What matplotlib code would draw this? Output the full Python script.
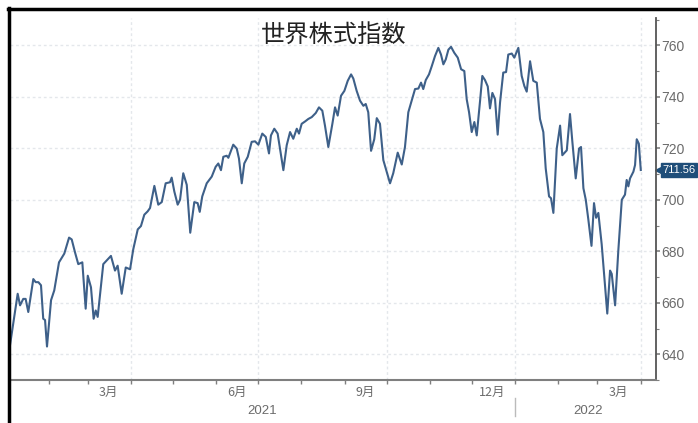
import numpy as np
import pandas as pd
import matplotlib
matplotlib.use('Agg')
import matplotlib.pyplot as plt
import matplotlib.dates as mdates
import matplotlib.transforms as mtransforms
from matplotlib.lines import Line2D
from matplotlib import font_manager

plt.rcParams['font.family'] = ['Noto Sans CJK JP', 'DejaVu Sans']

# narrow font for the numbers, if it is there
installed = set(f.name for f in font_manager.fontManager.ttflist)
num_family = ['Liberation Sans Narrow'] if 'Liberation Sans Narrow' in installed else ['Liberation Sans']

# chart data (days counted from 2021-01-01)
start_date = '2021-01-01'
days = [3.3, 8.8, 10.5, 12.8, 14.5, 16.4, 20.0, 21.7, 23.6, 25.5, 27.1, 28.4, 29.8,
        32.7, 35.0, 38.4, 42.2, 45.6, 47.5, 49.9, 52.2, 55.1, 57.5, 59.0, 61.3, 63.2,
        64.7, 66.1, 70.1, 75.6, 78.5, 80.4, 83.3, 86.2, 89.3, 91.6, 94.8, 97.1, 99.5,
        101.9, 103.6, 106.7, 109.5, 112.0, 114.8, 117.9, 119.1, 121.0, 123.4, 125.1,
        127.4, 129.9, 132.4, 135.3, 137.7, 139.2, 141.0, 144.2, 147.8, 150.6, 152.5,
        154.4, 156.1, 158.5, 159.7, 163.2, 165.7, 167.3, 169.3, 171.1, 173.6, 176.4,
        178.8, 181.2, 184.0, 186.5, 188.8, 190.2, 192.6, 195.0, 196.7, 199.1, 201.5,
        203.9, 206.2, 208.7, 210.3, 212.2, 214.6, 217.0, 219.4, 222.3, 224.6, 227.0,
        228.9, 231.3, 234.2, 236.1, 238.0, 240.4, 242.8, 245.2, 247.6, 249.2, 251.6,
        254.0, 256.4, 258.1, 259.9, 261.9, 264.2, 266.0, 268.3, 270.7, 273.1, 275.5,
        277.8, 281.0, 283.9, 286.2, 288.6, 291.0, 293.4, 295.8, 297.7, 299.3, 301.1,
        303.4, 305.4, 307.7, 310.1, 312.0, 313.7, 315.4, 317.3, 319.2, 321.5, 324.0,
        326.4, 328.7, 330.4, 332.1, 334.0, 335.9, 337.6, 340.0, 341.6, 343.5, 345.5,
        347.1, 348.8, 350.7, 352.6, 354.3, 356.6, 358.6, 360.2, 362.7, 364.5, 367.4,
        369.8, 371.7, 373.4, 375.8, 378.1, 380.6, 382.9, 385.3, 387.0, 389.4, 390.8,
        392.5, 394.9, 397.3, 398.9, 402.1, 404.4, 406.1, 408.5, 410.9, 412.3, 414.0,
        415.7, 417.5, 419.8, 421.6, 423.1, 424.7, 427.1, 428.8, 431.1, 433.1, 434.3,
        436.7, 439.0, 441.5, 443.8, 445.0, 446.2, 447.4, 449.8, 451.0, 452.2, 453.7,
        455.1]
values = [643.5, 663.5, 659.0, 661.5, 661.5, 656.4, 669.2, 668.0, 668.0, 666.8, 653.8,
          653.3, 643.0, 661.0, 664.8, 675.7, 679.1, 685.3, 684.6, 679.5, 675.0, 675.7,
          657.7, 670.5, 666.0, 653.8, 657.0, 654.5, 675.0, 678.2, 672.5, 674.4, 663.5,
          673.7, 673.0, 680.8, 688.5, 689.8, 694.2, 695.5, 696.8, 705.4, 698.1, 699.1,
          706.4, 706.8, 708.6, 703.2, 698.1, 700.0, 710.3, 705.8, 687.2, 699.1, 698.7,
          695.3, 701.3, 706.4, 709.0, 712.8, 714.1, 711.5, 716.7, 717.1, 716.3, 721.4,
          719.9, 716.0, 706.4, 714.1, 716.7, 722.5, 722.7, 721.4, 725.7, 724.4, 718.0,
          725.0, 727.6, 725.7, 719.9, 711.5, 721.2, 726.3, 723.7, 727.6, 725.7, 729.5,
          730.4, 731.4, 732.1, 733.7, 735.9, 734.6, 728.8, 720.5, 729.5, 735.9, 732.7,
          740.4, 742.3, 746.2, 748.7, 747.1, 742.3, 738.5, 736.5, 737.2, 734.0, 719.0,
          723.5, 731.7, 729.5, 715.4, 710.9, 706.4, 710.3, 718.3, 713.7, 720.5, 734.0,
          738.5, 743.0, 743.2, 745.5, 743.0, 746.5, 748.7, 751.9, 755.8, 759.0, 756.4,
          752.6, 754.5, 758.3, 759.4, 757.1, 755.2, 750.7, 750.0, 739.1, 734.0, 726.3,
          730.2, 725.0, 738.5, 748.1, 746.5, 744.0, 735.5, 741.5, 739.1, 725.3, 737.8,
          749.4, 749.6, 756.4, 756.8, 755.2, 759.0, 748.1, 744.2, 742.0, 753.8, 746.2,
          745.5, 731.4, 726.3, 712.2, 701.3, 700.6, 694.9, 719.9, 728.8, 717.3, 719.2,
          733.3, 722.5, 708.3, 719.9, 720.5, 704.5, 700.0, 692.5, 682.1, 698.7, 693.0,
          694.9, 682.7, 671.2, 655.8, 672.5, 671.2, 659.0, 680.2, 700.0, 702.0, 707.7,
          705.2, 708.3, 710.9, 713.5, 723.5, 721.8, 711.56]
last_label = '711.56'
title = '世界株式指数'
month_labels = ['3月', '6月', '9月', '12月', '3月']
year_labels = ['2021', '2022']

dates = pd.Timestamp(start_date) + pd.to_timedelta(days, unit='D')

line_color = '#3e6089'
grid_color = '#e4e7eb'
axis_color = '#7f7f7f'
text_color = '#6b6b6b'
tag_color = '#1f4e79'

fig = plt.figure(figsize=(6.98, 4.23), dpi=100)
ax = fig.add_axes([10 / 698, 1 - 380 / 423, 646 / 698, 362 / 423])

ax.plot(dates, values, color=line_color, lw=1.5, solid_joinstyle='round')

ax.set_xlim(pd.Timestamp(start_date) + pd.Timedelta(days=3.3),
            pd.Timestamp(start_date) + pd.Timedelta(days=466))
ax.set_ylim(631.4, 770.6)

# y axis on the right
ax.yaxis.tick_right()
ax.set_yticks(np.arange(640, 761, 20))
ax.set_yticks(np.arange(630, 771, 10), minor=True)
ax.tick_params(axis='y', which='major', length=3, width=1.2, colors=axis_color,
               labelcolor=text_color, labelsize=10, pad=1)
ax.tick_params(axis='y', which='minor', length=2, width=0.8, colors=axis_color)
for lab in ax.get_yticklabels():
    lab.set_family(num_family)

# month ticks and labels
ax.xaxis.set_major_locator(mdates.MonthLocator())
ax.xaxis.set_major_formatter(plt.NullFormatter())
ax.xaxis.set_minor_locator(mdates.MonthLocator(bymonth=[3, 6, 9, 12], bymonthday=16))
ax.xaxis.set_minor_formatter(plt.FixedFormatter(month_labels))
ax.tick_params(axis='x', which='major', length=3, width=1, colors=axis_color)
ax.tick_params(axis='x', which='minor', length=0, labelsize=9, labelcolor=text_color, pad=4)

# grid
for v in np.arange(640, 761, 20):
    ax.axhline(v, color=grid_color, lw=1, ls=(0, (2, 2)), zorder=0)
for d in pd.to_datetime(['2021-04-01', '2021-07-01', '2021-10-01', '2022-01-01', '2022-04-01']):
    ax.axvline(d, color=grid_color, lw=1, ls=(0, (2, 2)), zorder=0)

for s in ['left', 'top']:
    ax.spines[s].set_visible(False)
ax.spines['right'].set_color('#555555')
ax.spines['right'].set_linewidth(1.3)
ax.spines['bottom'].set_color(axis_color)
ax.spines['bottom'].set_linewidth(1.5)

# year labels
trans = mtransforms.blended_transform_factory(ax.transData, ax.transAxes)
ax.text(pd.Timestamp('2021-07-04'), -0.085, year_labels[0], transform=trans,
        ha='center', va='center', fontsize=9.5, color=text_color, family=num_family)
ax.text(pd.Timestamp('2022-02-22'), -0.085, year_labels[1], transform=trans,
        ha='center', va='center', fontsize=9.5, color=text_color, family=num_family)
ax.add_line(Line2D([pd.Timestamp('2022-01-01')] * 2, [-0.05, -0.10], transform=trans,
                   color='#bbbbbb', lw=1, clip_on=False))

# last value tag
trans_y = mtransforms.blended_transform_factory(ax.transAxes, ax.transData)
ax.plot([1.006], [values[-1]], marker='<', ms=6.5, color=tag_color, transform=trans_y,
        clip_on=False)
ax.text(1.010, values[-1], last_label, transform=trans_y, ha='left', va='center',
        fontsize=8, color='white', family=num_family,
        bbox=dict(boxstyle='square,pad=0.15', fc=tag_color, ec=tag_color))

# title
fig.text(334 / 698, 1 - 36 / 423, title, ha='center', va='center', fontsize=17.5,
         color='#222222')

# black frame at top and left
fig.add_artist(Line2D([8 / 698, 1], [1 - 9 / 423] * 2, color='black', lw=2.5))
fig.add_artist(Line2D([9 / 698] * 2, [0, 1 - 8 / 423], color='black', lw=2.5))

fig.savefig('out.png', dpi=100)
